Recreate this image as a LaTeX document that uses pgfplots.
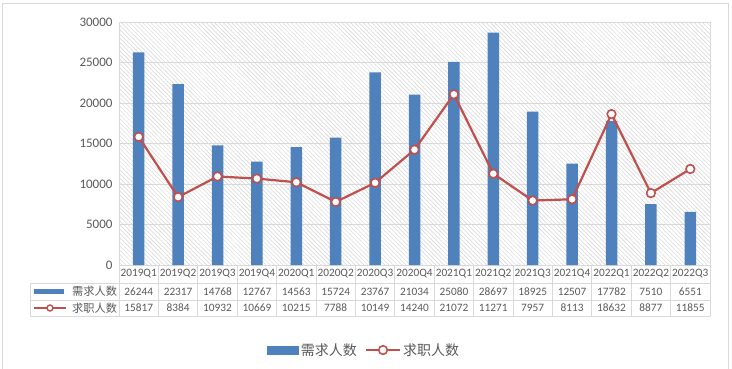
\documentclass[border=0pt]{standalone}
\usepackage{pgfplots}
\pgfplotsset{compat=1.18}
\usepackage{fontspec}
\setmainfont{Carlito}
\newfontfamily\cjk{Noto Sans CJK SC}
\usetikzlibrary{patterns.meta}
\definecolor{barblue}{HTML}{4F81BD}
\definecolor{linered}{HTML}{C0504D}
\definecolor{gridgray}{HTML}{D9D9D9}
\definecolor{txt}{HTML}{595959}
\definecolor{hatch}{HTML}{D3D3D3}
\begin{document}
\begin{tikzpicture}[x=1pt,y=1pt]
\path[use as bounding box] (0,0) rectangle (732,368);
\draw[gridgray, line width=0.8pt] (2.5,-2) -- (2.5,364.5) -- (728,364.5) -- (728,-2);
\begin{axis}[
  at={(119pt,103pt)}, anchor=south west, scale only axis,
  width=591pt, height=243pt,
  xmin=-0.5, xmax=14.5, ymin=0, ymax=30000,
  xtick=\empty,
  minor xtick={-0.5,0.5,...,14.5},
  ytick={0,5000,...,30000},
  xminorgrids, ymajorgrids,
  grid style={gridgray, line width=0.8pt},
  minor grid style={gridgray, line width=0.8pt},
  major tick length=0, minor tick length=0,
  axis line style={gridgray, line width=0.8pt},
  scaled y ticks=false,
  yticklabel style={font=\fontsize{13}{13}\selectfont, text=txt, xshift=-3pt,
    /pgf/number format/assume math mode=true,
    /pgf/number format/set thousands separator={}},
  axis background/.style={pattern={Lines[angle=-45,distance=3pt,line width=0.45pt]}, pattern color=hatch},
  clip=false,
  legend style={at={(0.4146,-0.35)}, anchor=center, draw=none, fill=none,
    legend columns=2, font=\cjk\fontsize{14}{14}\selectfont, text=txt,
    /tikz/every even column/.append style={column sep=6pt}},
  legend cell align=left,
]
\addplot[ybar, bar width=11.5pt, fill=barblue, draw=none,
  legend image code/.code={\fill[barblue] (0pt,-4.5pt) rectangle (32pt,4.5pt);}]
coordinates {(0,26244) (1,22317) (2,14768) (3,12767) (4,14563) (5,15724) (6,23767) (7,21034) (8,25080) (9,28697) (10,18925) (11,12507) (12,17782) (13,7510) (14,6551)};
\addlegendentry{需求人数}
\addplot[linered, line width=2.2pt, mark=*, mark size=4.3pt,
  mark options={fill=white, draw=linered, line width=1.6pt},
  legend image code/.code={\draw[linered,line width=2.2pt] (0pt,0pt) -- (34pt,0pt); \draw[linered,line width=1.6pt,fill=white] (17pt,0pt) circle (4.3pt);}]
coordinates {(0,15817) (1,8384) (2,10932) (3,10669) (4,10215) (5,7788) (6,10149) (7,14240) (8,21072) (9,11271) (10,7957) (11,8113) (12,18632) (13,8877) (14,11855)};
\addlegendentry{求职人数}
\end{axis}
% data table below the axis
\begin{scope}[gridgray, line width=0.8pt]
  \foreach \k in {0,...,15} \draw ({119+39.4*\k},103) -- ({119+39.4*\k},52);
  \draw (30,84.7) -- (30,52);
  \foreach \y in {84.7,68,52} \draw (30,\y) -- (710,\y);
\end{scope}
\foreach \c [count=\i from 0] in {2019Q1,2019Q2,2019Q3,2019Q4,2020Q1,2020Q2,2020Q3,2020Q4,2021Q1,2021Q2,2021Q3,2021Q4,2022Q1,2022Q2,2022Q3}
  \node[font=\fontsize{11.3}{11.3}\selectfont, text=txt, inner sep=0] at ({119+39.4*\i+19.7},94) {\c};
\foreach \v [count=\i from 0] in {26244,22317,14768,12767,14563,15724,23767,21034,25080,28697,18925,12507,17782,7510,6551}
  \node[font=\fontsize{11.3}{11.3}\selectfont, text=txt, inner sep=0] at ({119+39.4*\i+19.7},76.5) {\v};
\foreach \v [count=\i from 0] in {15817,8384,10932,10669,10215,7788,10149,14240,21072,11271,7957,8113,18632,8877,11855}
  \node[font=\fontsize{11.3}{11.3}\selectfont, text=txt, inner sep=0] at ({119+39.4*\i+19.7},60) {\v};
\fill[barblue] (34,74) rectangle (64,79);
\node[anchor=west, font=\cjk\fontsize{11.2}{11.2}\selectfont, text=txt, inner sep=0] at (72,76.5) {需求人数};
\draw[linered, line width=2pt] (34,60) -- (66,60);
\draw[linered, line width=1.4pt, fill=white] (50,60) circle (3pt);
\node[anchor=west, font=\cjk\fontsize{11.2}{11.2}\selectfont, text=txt, inner sep=0] at (72,60) {求职人数};
\end{tikzpicture}
\end{document}
